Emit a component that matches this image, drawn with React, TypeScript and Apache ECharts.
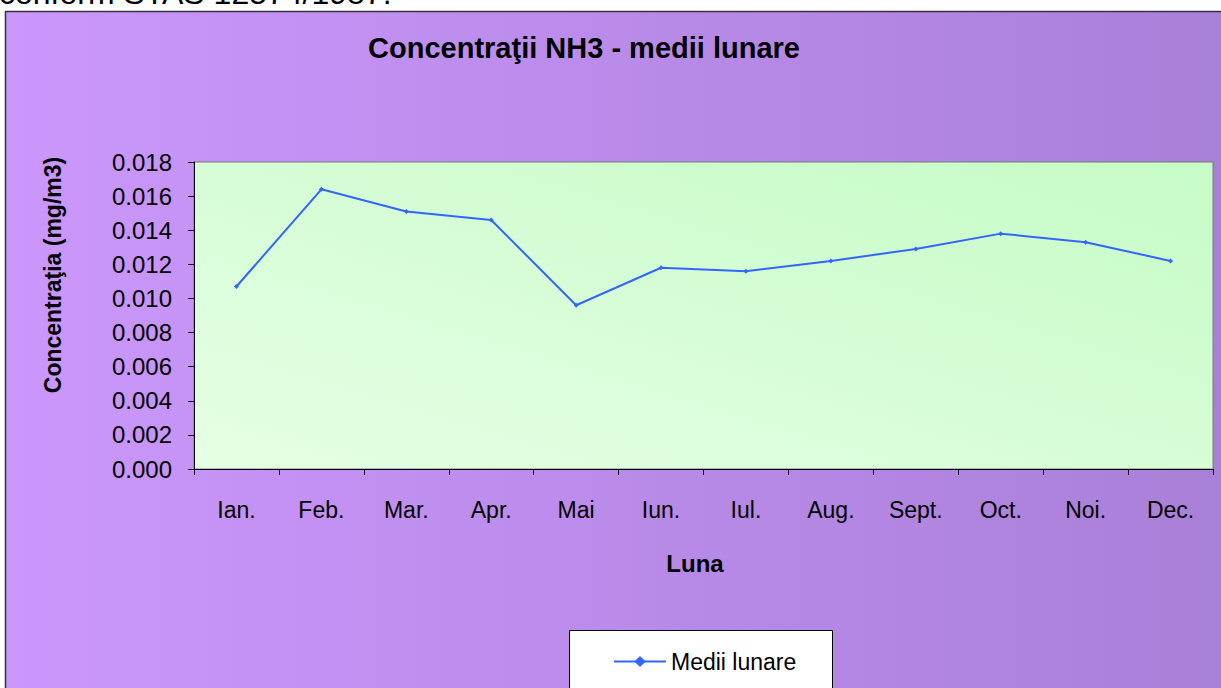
import React, { useEffect, useRef } from "react";
import * as echarts from "echarts";

const months = ["Ian.", "Feb.", "Mar.", "Apr.", "Mai", "Iun.", "Iul.", "Aug.", "Sept.", "Oct.", "Noi.", "Dec."];
const monthlyMeans = [0.0107, 0.0164, 0.0151, 0.0146, 0.0096, 0.0118, 0.0116, 0.0122, 0.0129, 0.0138, 0.0133, 0.0122];
const seriesName = "Medii lunare";
const titleText = "Concentraţii NH3 - medii lunare";
const yAxisName = "Concentraţia (mg/m3)";
const xAxisName = "Luna";
const headerText = "conform STAS 12574/1987.";

const FONT = "'Liberation Sans', Arial, sans-serif";

export default function App() {
  const ref = useRef<HTMLDivElement>(null);
  useEffect(() => {
    if (!ref.current) return;
    const chart = echarts.init(ref.current, null, { renderer: "svg" });
    chart.setOption({
      animation: false,
      backgroundColor: "#ffffff",
      textStyle: { fontFamily: FONT },
      graphic: [
        {
          type: "text",
          left: -1,
          top: -23,
          z: 10,
          style: { text: headerText, font: `32px ${FONT}`, fill: "#000" },
        },
        {
          type: "rect",
          z: -10,
          shape: { x: 5.5, y: 11.5, width: 1240, height: 700 },
          style: {
            fill: new echarts.graphic.LinearGradient(0, 0, 1, 0, [
              { offset: 0, color: "#cb97fc" },
              { offset: 1, color: "#a87fd7" },
            ]),
            stroke: "#3a3040",
            lineWidth: 1.5,
          },
        },
        {
          type: "text",
          x: 584,
          y: 48,
          z: 10,
          style: {
            text: titleText,
            font: `bold 29px ${FONT}`,
            fill: "#000",
            align: "center",
            verticalAlign: "middle",
          },
        },
        {
          type: "text",
          x: 53,
          y: 275,
          rotation: Math.PI / 2,
          z: 10,
          style: {
            text: yAxisName,
            font: `bold 23px ${FONT}`,
            fill: "#000",
            align: "center",
            verticalAlign: "middle",
          },
        },
        {
          type: "text",
          x: 695,
          y: 563,
          z: 10,
          style: {
            text: xAxisName,
            font: `bold 24px ${FONT}`,
            fill: "#000",
            align: "center",
            verticalAlign: "middle",
          },
        },
        {
          type: "rect",
          z: 1,
          shape: { x: 569.5, y: 630.5, width: 263, height: 80 },
          style: { fill: "#ffffff", stroke: "#000", lineWidth: 1 },
        },
      ],
      grid: {
        left: 194,
        top: 162,
        right: 8,
        bottom: 219,
        show: true,
        borderColor: "#7a7a7a",
        borderWidth: 1,
        backgroundColor: new echarts.graphic.LinearGradient(0, 1, 1, 0, [
          { offset: 0, color: "#e6ffe6" },
          { offset: 1, color: "#c6fbc6" },
        ]),
      },
      legend: {
        left: 613,
        top: 650,
        padding: 0,
        itemWidth: 52,
        itemHeight: 14,
        z: 5,
        textStyle: { fontSize: 23, color: "#000", fontFamily: FONT },
        data: [seriesName],
      },
      xAxis: {
        type: "category",
        data: months,
        boundaryGap: true,
        axisLine: { show: true, lineStyle: { color: "#000", width: 1 } },
        axisTick: { show: true, length: 6, lineStyle: { color: "#000" } },
        axisLabel: { fontSize: 23, color: "#000", margin: 29, fontFamily: FONT },
        splitLine: { show: false },
      },
      yAxis: {
        type: "value",
        min: 0,
        max: 0.018,
        interval: 0.002,
        axisLine: { show: true, lineStyle: { color: "#000", width: 1 } },
        axisTick: { show: true, length: 6, lineStyle: { color: "#000" } },
        axisLabel: {
          fontSize: 24,
          color: "#000",
          margin: 22,
          fontFamily: FONT,
          formatter: (v: number) => v.toFixed(3),
        },
        splitLine: { show: false },
      },
      series: [
        {
          name: seriesName,
          type: "line",
          data: monthlyMeans,
          symbol: "diamond",
          symbolSize: 5,
          itemStyle: { color: "#3366ff" },
          lineStyle: { color: "#3366ff", width: 2 },
        },
      ],
    });
    return () => chart.dispose();
  }, []);
  return (
    <div
      ref={ref}
      style={{ position: "fixed", left: 0, top: 0, width: 1221, height: 688 }}
    />
  );
}
